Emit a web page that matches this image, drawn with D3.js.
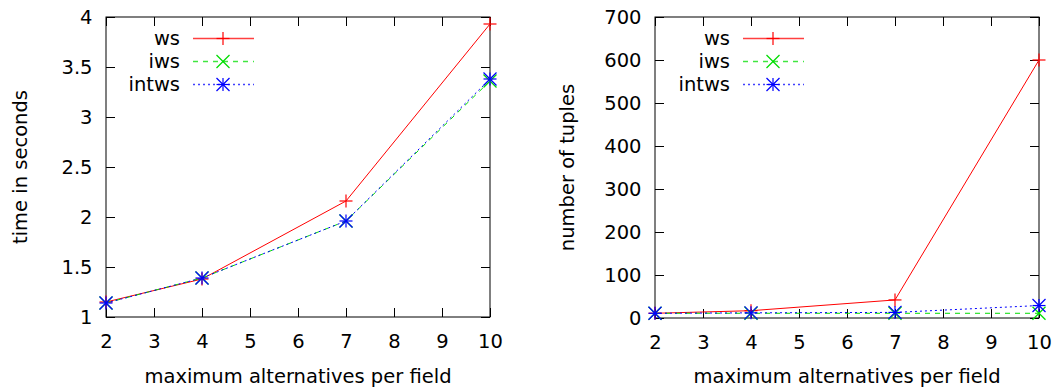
<!DOCTYPE html>
<html>
<head>
<meta charset="utf-8">
<script src="https://cdn.jsdelivr.net/npm/d3@7"></script>
<style>
  html, body { margin: 0; padding: 0; background: #fff; }
  svg { display: block; }
  text { font-family: "DejaVu Sans", sans-serif; fill: #000; }
</style>
</head>
<body>
<svg id="chart" width="1062" height="392"></svg>
<script>
// Shared x values: maximum alternatives per field
const alternatives = [2, 4, 7, 10];
const xTicks = [2, 3, 4, 5, 6, 7, 8, 9, 10];

// Left panel: run time in seconds
const timeWs    = [1.15, 1.38, 2.16, 3.93];
const timeIws   = [1.14, 1.39, 1.96, 3.36];
const timeIntws = [1.14, 1.39, 1.96, 3.38];
const timeTicks = [1, 1.5, 2, 2.5, 3, 3.5, 4];

// Right panel: number of tuples
const tuplesWs    = [11, 17, 42, 600];
const tuplesIws   = [11, 11, 11, 11];
const tuplesIntws = [11, 12, 13, 29];
const tupleTicks  = [0, 100, 200, 300, 400, 500, 600, 700];

const seriesNames = ["ws", "iws", "intws"];

const FONT = "19.5px";

const styles = {
  ws:    { color: "#ff0000", dash: null,  marker: "plus" },
  iws:   { color: "#00dd00", dash: "5,5", marker: "cross" },
  intws: { color: "#0000ff", dash: "2,3", marker: "star" }
};

const svg = d3.select("#chart");

function marker(g, type, x, y, color) {
  const s = 6.5;
  const segs = [];
  if (type === "plus" || type === "star") {
    segs.push([x - s, y, x + s, y], [x, y - s, x, y + s]);
  }
  if (type === "cross" || type === "star") {
    segs.push([x - s, y - s, x + s, y + s], [x - s, y + s, x + s, y - s]);
  }
  segs.forEach(p => g.append("line")
    .attr("x1", p[0]).attr("y1", p[1]).attr("x2", p[2]).attr("y2", p[3])
    .attr("stroke", color).attr("stroke-width", 1.2));
}

function panel(opts) {
  const { left, right, top, bottom, yDomain, yTicks, yFormat, data, yLabel, yLabelX, legendX } = opts;
  const g = svg.append("g");
  const x = d3.scaleLinear().domain([2, 10]).range([left, right]);
  const y = d3.scaleLinear().domain(yDomain).range([bottom, top]);
  const tickLen = 9;

  // axes with inward ticks, mirrored on top and right
  const axisStyle = sel => {
    sel.select(".domain").remove();
    sel.selectAll(".tick line").attr("stroke", "#000");
    sel.selectAll(".tick text").style("font-size", FONT)
      .style("font-family", "DejaVu Sans, sans-serif").attr("fill", "#000");
  };
  g.append("g").attr("transform", `translate(0,${bottom})`)
    .call(d3.axisBottom(x).tickValues(xTicks).tickFormat(d3.format("d"))
      .tickSizeInner(-tickLen).tickSizeOuter(0).tickPadding(17))
    .call(axisStyle);
  g.append("g").attr("transform", `translate(0,${top})`)
    .call(d3.axisTop(x).tickValues(xTicks).tickFormat("")
      .tickSizeInner(-tickLen).tickSizeOuter(0))
    .call(axisStyle);
  g.append("g").attr("transform", `translate(${left},0)`)
    .call(d3.axisLeft(y).tickValues(yTicks).tickFormat(yFormat)
      .tickSizeInner(-tickLen).tickSizeOuter(0).tickPadding(13.5))
    .call(axisStyle);
  g.append("g").attr("transform", `translate(${right},0)`)
    .call(d3.axisRight(y).tickValues(yTicks).tickFormat("")
      .tickSizeInner(-tickLen).tickSizeOuter(0))
    .call(axisStyle);

  // frame
  g.append("rect").attr("x", left).attr("y", top)
    .attr("width", right - left).attr("height", bottom - top)
    .attr("fill", "none").attr("stroke", "#000").attr("stroke-width", 1);

  // series
  const line = d3.line().x(d => x(d[0])).y(d => y(d[1]));
  seriesNames.forEach(name => {
    const st = styles[name];
    const pts = alternatives.map((a, i) => [a, data[name][i]]);
    g.append("path").attr("d", line(pts))
      .attr("fill", "none").attr("stroke", st.color).attr("stroke-width", 1)
      .attr("stroke-dasharray", st.dash);
    pts.forEach(p => marker(g, st.marker, x(p[0]), y(p[1]), st.color));
  });

  // legend
  seriesNames.forEach((name, i) => {
    const st = styles[name];
    const ly = 38.5 + i * 23;
    g.append("text").attr("x", legendX).attr("y", ly + 6.5)
      .attr("text-anchor", "end").style("font-size", FONT).text(name);
    g.append("line").attr("x1", legendX + 13).attr("x2", legendX + 74)
      .attr("y1", ly).attr("y2", ly)
      .attr("stroke", st.color).attr("stroke-width", 1.5).attr("stroke-opacity", 0.75)
      .attr("stroke-dasharray", st.dash);
    marker(g, st.marker, legendX + 43, ly, st.color);
  });

  // axis titles
  g.append("text")
    .attr("transform", `translate(${yLabelX},${(top + bottom) / 2}) rotate(-90)`)
    .attr("text-anchor", "middle").style("font-size", FONT).text(yLabel);
  g.append("text").attr("x", (left + right) / 2).attr("y", 383)
    .attr("text-anchor", "middle").style("font-size", FONT)
    .text("maximum alternatives per field");
}

panel({
  left: 106, right: 490, top: 17, bottom: 317,
  yDomain: [1, 4], yTicks: timeTicks, yFormat: d3.format("~g"),
  data: { ws: timeWs, iws: timeIws, intws: timeIntws },
  yLabel: "time in seconds", yLabelX: 26.5, legendX: 180
});

panel({
  left: 655, right: 1039, top: 17, bottom: 318,
  yDomain: [0, 700], yTicks: tupleTicks, yFormat: d3.format("d"),
  data: { ws: tuplesWs, iws: tuplesIws, intws: tuplesIntws },
  yLabel: "number of tuples", yLabelX: 573.5, legendX: 730
});
</script>
</body>
</html>
